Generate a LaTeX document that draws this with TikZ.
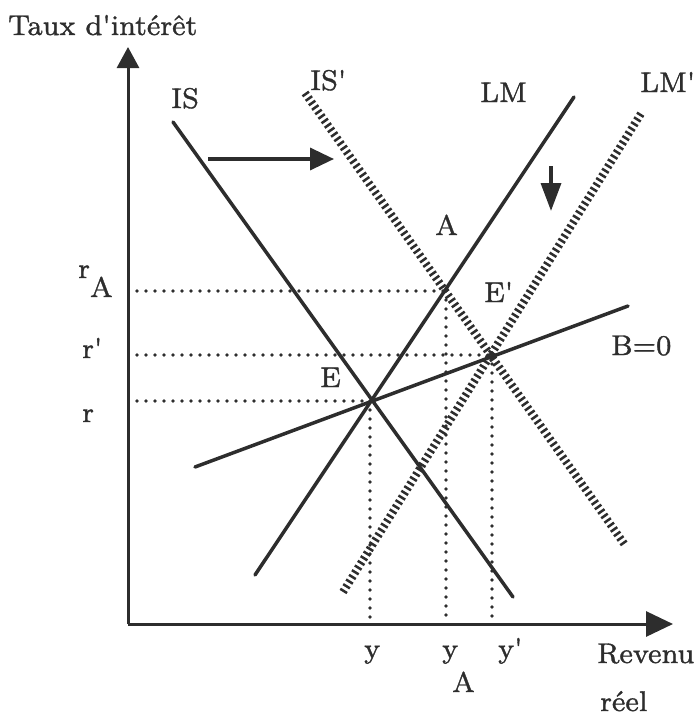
\documentclass[tikz,border=0pt]{standalone}
\usepackage{fontspec}
\newfontfamily\lblfont{lmroman8-regular.otf}[FakeBold=1.2]
\usetikzlibrary{arrows.meta}
\definecolor{ink}{RGB}{45,45,45}
\begin{document}
\begin{tikzpicture}[x=1pt,y=-1pt,
  axis/.style={draw=ink,line width=3pt},
  curve/.style={draw=ink,line width=3.5pt,line cap=round},
  hatched/.style={draw=ink,line width=8pt,dash pattern=on 2.5pt off 3pt},
  guide/.style={draw=ink,line width=3.8pt,line cap=round,dash pattern=on 0pt off 9pt},
  lbl/.style={text=ink,font=\lblfont\fontsize{28.5}{34}\selectfont,inner sep=0pt,anchor=base west},
  shiftarrow/.style={draw=ink,line width=3.5pt}]
\useasboundingbox (0,0) rectangle (699,720);
% key points
\coordinate (O) at (128,624);
\coordinate (Ytip) at (128,47);
\coordinate (Xtip) at (673,624);
\coordinate (E) at (370,401);
\coordinate (A) at (446,291);
\coordinate (Ep) at (492,355);
\coordinate (rAs) at (137,291);
\coordinate (rps) at (137,355);
\coordinate (rs) at (137,401);
\coordinate (yb) at (370,620);
\coordinate (yAb) at (446,620);
\coordinate (ypb) at (492,620);
% curve ends
\coordinate (IS1) at (173,122);
\coordinate (IS2) at (513,597);
\coordinate (ISp1) at (305,93);
\coordinate (ISp2) at (625,545);
\coordinate (LM1) at (255,575);
\coordinate (LM2) at (574,97);
\coordinate (LMp1) at (343,592);
\coordinate (LMp2) at (642,112);
\coordinate (B1) at (195,467);
\coordinate (B2) at (628,306);
\coordinate (h1) at (208,159);
\coordinate (h2) at (334,159);
\coordinate (d1) at (551,166);
\coordinate (d2) at (551,211);
% guides
\draw[guide] (rAs) -- (A);
\draw[guide] (rps) -- (Ep);
\draw[guide] (rs) -- (E);
\draw[guide] (E) -- (yb);
\draw[guide] (A) -- (yAb);
\draw[guide] (Ep) -- (ypb);
% axes
\draw[axis,-{Triangle[length=21pt,width=22pt]}] (O) -- (Ytip);
\draw[axis,-{Triangle[length=27pt,width=25pt]}] (O) -- (Xtip);
% curves
\draw[hatched] (ISp1) -- (ISp2);
\draw[hatched] (LMp1) -- (LMp2);
\draw[curve] (IS1) -- (IS2);
\draw[curve] (LM1) -- (LM2);
\draw[curve] (B1) -- (B2);
% shift arrows
\draw[shiftarrow,-{Triangle[length=24pt,width=22pt]}] (h1) -- (h2);
\draw[shiftarrow,-{Triangle[length=28pt,width=20pt]}] (d1) -- (d2);
% labels
\node[lbl] (ty) at (8,35) {Taux d'intérêt};
\node[lbl] (lIS) at (171,108) {IS};
\node[lbl] (lISp) at (310,90) {IS'};
\node[lbl] (lLM) at (480,102) {LM};
\node[lbl] (lLMp) at (640,92) {LM'};
\node[lbl] (lA) at (435,235) {A};
\node[lbl] (lEp) at (484,302) {E'};
\node[lbl] (lB) at (611,355) {B=0};
\node[lbl] (lE) at (320,387) {E};
\node[lbl] (lrA) at (78,278) {r\raisebox{-19pt}{A}};
\node[lbl] (lrp) at (82,358) {r'};
\node[lbl] (lr) at (82,422) {r};
\node[lbl] (ly) at (364,658) {y};
\node[lbl] (lyA) at (442,658) {y\kern-6pt\raisebox{-34pt}{A}};
\node[lbl] (lyp) at (498,658) {y'};
\node[lbl] (lrev) at (597,663) {Revenu};
\node[lbl] (lreel) at (600,711) {réel};
\end{tikzpicture}
\end{document}
